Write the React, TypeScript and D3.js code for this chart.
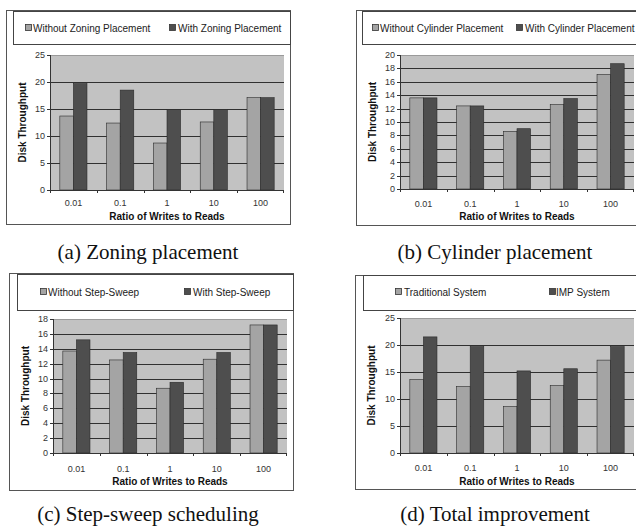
import React from "react";
import * as d3 from "d3";

const categories = ["0.01", "0.1", "1", "10", "100"];

const zoningWithout = [13.7, 12.4, 8.7, 12.6, 17.1];
const zoningWith = [19.7, 18.5, 14.9, 14.9, 17.1];
const cylinderWithout = [13.6, 12.4, 8.6, 12.6, 17.1];
const cylinderWith = [13.6, 12.4, 9.0, 13.5, 18.7];
const stepWithout = [13.7, 12.5, 8.7, 12.6, 17.2];
const stepWith = [15.2, 13.5, 9.5, 13.5, 17.2];
const totalTraditional = [13.6, 12.3, 8.6, 12.5, 17.2];
const totalIMP = [21.5, 19.7, 15.2, 15.6, 19.7];

const ticksA = [0, 5, 10, 15, 20, 25];
const ticksB = [0, 2, 4, 6, 8, 10, 12, 14, 16, 18, 20];
const ticksC = [0, 2, 4, 6, 8, 10, 12, 14, 16, 18];
const ticksD = [0, 5, 10, 15, 20, 25];

const legendA = ["Without Zoning Placement", "With Zoning Placement"];
const legendB = ["Without Cylinder Placement", "With Cylinder Placement"];
const legendC = ["Without Step-Sweep", "With Step-Sweep"];
const legendD = ["Traditional System", "IMP System"];

const captions = [
  "(a) Zoning placement",
  "(b) Cylinder placement",
  "(c) Step-sweep scheduling",
  "(d) Total improvement",
];

const xTitle = "Ratio of Writes to Reads";
const yTitle = "Disk Throughput";

const LIGHT = "#a4a4a4";
const DARK = "#4e4e4e";
const PLOTBG = "#c2c2c2";
const SANS = "'Liberation Sans', Arial, sans-serif";

type PanelProps = {
  frame: { x0: number; y0: number; x1: number; y1: number };
  legendBox: { x0: number; y0: number; x1: number; y1: number };
  legendItems: { sx: number; tx: number }[];
  legendY: number;
  plot: { x0: number; x1: number; y0: number; y1: number };
  ticks: number[];
  s1: number[];
  s2: number[];
  names: string[];
  yTitleX: number;
  xLabelY: number;
  xTitleY: number;
};

function Panel(p: PanelProps) {
  const { plot, ticks } = p;
  const maxT = ticks[ticks.length - 1];
  const y = d3.scaleLinear().domain([0, maxT]).range([plot.y1, plot.y0]);
  const x0 = d3
    .scaleBand<string>()
    .domain(categories)
    .range([plot.x0, plot.x1])
    .paddingInner(0.42)
    .paddingOuter(0.21);
  const x1 = d3.scaleBand<string>().domain(["a", "b"]).range([0, x0.bandwidth()]);
  const step = x0.step();
  const series = [
    { key: "a", vals: p.s1, color: LIGHT },
    { key: "b", vals: p.s2, color: DARK },
  ];
  return (
    <g>
      <rect
        x={p.frame.x0 + 0.5}
        y={p.frame.y0 + 0.5}
        width={p.frame.x1 - p.frame.x0}
        height={p.frame.y1 - p.frame.y0}
        fill="#fff"
        stroke="#555"
        strokeWidth={1}
      />
      <rect
        x={p.legendBox.x0 + 0.5}
        y={p.legendBox.y0 + 0.5}
        width={p.legendBox.x1 - p.legendBox.x0}
        height={p.legendBox.y1 - p.legendBox.y0}
        fill="#fff"
        stroke="#444"
        strokeWidth={1}
      />
      {p.legendItems.map((li, i) => (
        <g key={i}>
          <rect
            x={li.sx + 0.5}
            y={p.legendY - 3.5}
            width={6}
            height={6}
            fill={i === 0 ? LIGHT : DARK}
            stroke="#333"
            strokeWidth={0.8}
          />
          <text x={li.tx} y={p.legendY + 3.5} fontFamily={SANS} fontSize={10} fill="#222">
            {p.names[i]}
          </text>
        </g>
      ))}
      <rect
        x={plot.x0}
        y={plot.y0}
        width={plot.x1 - plot.x0}
        height={plot.y1 - plot.y0}
        fill={PLOTBG}
      />
      {ticks.map((t) => (
        <line
          key={"g" + t}
          x1={plot.x0}
          x2={plot.x1}
          y1={Math.round(y(t)) + 0.5}
          y2={Math.round(y(t)) + 0.5}
          stroke={t === maxT ? "#9a9a9a" : "#303030"}
          strokeWidth={1}
        />
      ))}
      {series.map((s) =>
        categories.map((c, i) => {
          const bx = (x0(c) as number) + (x1(s.key) as number);
          return (
            <rect
              key={s.key + c}
              x={bx}
              y={y(s.vals[i])}
              width={x1.bandwidth()}
              height={y(0) - y(s.vals[i])}
              fill={s.color}
              stroke="#2a2a2a"
              strokeWidth={0.6}
            />
          );
        })
      )}
      <line
        x1={plot.x0 + 0.5}
        x2={plot.x0 + 0.5}
        y1={plot.y0}
        y2={plot.y1}
        stroke="#333"
      />
      <line
        x1={plot.x0}
        x2={plot.x1}
        y1={Math.round(plot.y1) + 0.5}
        y2={Math.round(plot.y1) + 0.5}
        stroke="#333"
      />
      {ticks.map((t) => (
        <g key={"t" + t}>
          <line
            x1={plot.x0 - 3}
            x2={plot.x0}
            y1={Math.round(y(t)) + 0.5}
            y2={Math.round(y(t)) + 0.5}
            stroke="#333"
          />
          <text
            x={plot.x0 - 5}
            y={y(t) + 3}
            textAnchor="end"
            fontFamily={SANS}
            fontSize={9}
            fill="#333"
          >
            {t}
          </text>
        </g>
      ))}
      {categories.map((c, i) => (
        <line
          key={"xt" + c}
          x1={Math.round(plot.x0 + i * step) + 0.5}
          x2={Math.round(plot.x0 + i * step) + 0.5}
          y1={plot.y1}
          y2={plot.y1 + 3}
          stroke="#333"
        />
      ))}
      <line
        x1={Math.round(plot.x1) - 0.5}
        x2={Math.round(plot.x1) - 0.5}
        y1={plot.y1}
        y2={plot.y1 + 3}
        stroke="#333"
      />
      {categories.map((c) => (
        <text
          key={"xl" + c}
          x={(x0(c) as number) + x0.bandwidth() / 2}
          y={p.xLabelY + 3}
          textAnchor="middle"
          fontFamily={SANS}
          fontSize={9}
          fill="#333"
        >
          {c}
        </text>
      ))}
      <text
        x={(plot.x0 + plot.x1) / 2}
        y={p.xTitleY + 3.5}
        textAnchor="middle"
        fontFamily={SANS}
        fontSize={10}
        fontWeight="bold"
        fill="#111"
      >
        {xTitle}
      </text>
      <text
        transform={`translate(${p.yTitleX + 3.5},${(plot.y0 + plot.y1) / 2}) rotate(-90)`}
        textAnchor="middle"
        fontFamily={SANS}
        fontSize={10}
        fontWeight="bold"
        fill="#111"
      >
        {yTitle}
      </text>
    </g>
  );
}

export default function App() {
  return (
    <svg
      width={636}
      height={529}
      style={{ position: "absolute", left: 0, top: 0, background: "#fff" }}
    >
      <rect x={0} y={0} width={636} height={529} fill="#fff" />
      <Panel
        frame={{ x0: 6, y0: 10, x1: 290, y1: 224 }}
        legendBox={{ x0: 13, y0: 11, x1: 290, y1: 44 }}
        legendItems={[
          { sx: 25, tx: 33 },
          { sx: 169, tx: 178 },
        ]}
        legendY={28}
        plot={{ x0: 50, x1: 284, y0: 55, y1: 190 }}
        ticks={ticksA}
        s1={zoningWithout}
        s2={zoningWith}
        names={legendA}
        yTitleX={22}
        xLabelY={203}
        xTitleY={216}
      />
      <Panel
        frame={{ x0: 356, y0: 10, x1: 660, y1: 225 }}
        legendBox={{ x0: 362, y0: 11, x1: 660, y1: 44 }}
        legendItems={[
          { sx: 372, tx: 380 },
          { sx: 516, tx: 525 },
        ]}
        legendY={28}
        plot={{ x0: 400, x1: 634, y0: 55, y1: 189 }}
        ticks={ticksB}
        s1={cylinderWithout}
        s2={cylinderWith}
        names={legendB}
        yTitleX={372}
        xLabelY={204}
        xTitleY={216}
      />
      <Panel
        frame={{ x0: 9, y0: 273, x1: 293, y1: 490 }}
        legendBox={{ x0: 17, y0: 274, x1: 293, y1: 310 }}
        legendItems={[
          { sx: 40, tx: 48 },
          { sx: 184, tx: 193 },
        ]}
        legendY={292}
        plot={{ x0: 53, x1: 287, y0: 319, y1: 453 }}
        ticks={ticksC}
        s1={stepWithout}
        s2={stepWith}
        names={legendC}
        yTitleX={25}
        xLabelY={469}
        xTitleY={481}
      />
      <Panel
        frame={{ x0: 355, y0: 275, x1: 660, y1: 489 }}
        legendBox={{ x0: 363, y0: 275, x1: 660, y1: 310 }}
        legendItems={[
          { sx: 395, tx: 404 },
          { sx: 549, tx: 556 },
        ]}
        legendY={292}
        plot={{ x0: 400, x1: 634, y0: 318, y1: 453 }}
        ticks={ticksD}
        s1={totalTraditional}
        s2={totalIMP}
        names={legendD}
        yTitleX={371}
        xLabelY={468}
        xTitleY={481}
      />
      {captions.map((c, i) => (
        <text
          key={c}
          x={i % 2 === 0 ? 148 : 495}
          y={i < 2 ? 259 : 521}
          textAnchor="middle"
          fontFamily="'Liberation Serif', 'Times New Roman', serif"
          fontSize={21}
          fill="#111"
        >
          {c}
        </text>
      ))}
    </svg>
  );
}
